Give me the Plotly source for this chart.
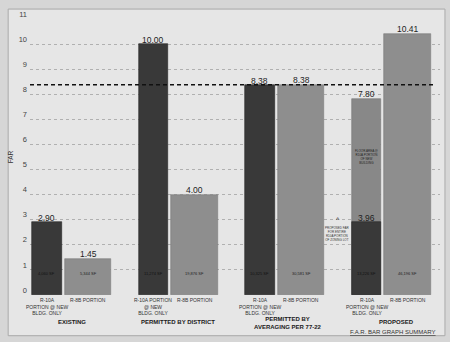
import plotly.graph_objects as go

# ---------------- data ----------------
groups = ["EXISTING", "PERMITTED BY DISTRICT", "PERMITTED BY<br>AVERAGING PER 77-22", "PROPOSED"]
r10a_labels = ["R-10A<br>PORTION @ NEW<br>BLDG. ONLY", "R-10A PORTION<br>@ NEW<br>BLDG. ONLY",
               "R-10A<br>PORTION @ NEW<br>BLDG. ONLY", "R-10A<br>PORTION @ NEW<br>BLDG. ONLY"]
r8b_labels = ["R-8B PORTION"] * 4
r10a_far = [2.90, 10.00, 8.38, 2.90]          # dark bar heights as drawn
r10a_far_text = ["2.90", "10.00", "8.38", "3.96"]
r8b_far = [1.45, 4.00, 8.38, 10.41]
proposed_total_far = 7.80                    # R-10A portion of entire zoning lot (proposed)
r10a_sf = ["4,060 SF", "11,274 SF", "10,325 SF", "13,226 SF"]
r8b_sf = ["5,344 SF", "19,876 SF", "30,581 SF", "46,196 SF"]
avg_far_line = 8.38
y_ticks = list(range(0, 12))

# ---------------- geometry helpers ----------------
W, H = 450, 342
L, R, T, B = 27, 440, 17, 295
XR = [-0.352, 3.497]
YR = [0, 11]
DARK_OFF, LIGHT_OFF = -0.193, 0.193
DARK_W, LIGHT_W = 0.275, 0.438


def xpx(px):
    return XR[0] + (px - L) / (R - L) * (XR[1] - XR[0])


def ypx(py):
    return YR[0] + (B - py) / (B - T) * (YR[1] - YR[0])


def xp(px):
    return (px - L) / (R - L)


def yp(py):
    return (B - py) / (B - T)


def xdata_to_paper(x):
    return (x - XR[0]) / (XR[1] - XR[0])


FONT = "Liberation Sans, Arial, sans-serif"
DARK = "#393939"
LIGHT = "#8e8e8e"
MID = "#888888"
BG = "#e6e6e6"

idx = list(range(len(groups)))
xd = [i + DARK_OFF for i in idx]
xl = [i + LIGHT_OFF for i in idx]

fig = go.Figure()
fig.add_trace(go.Bar(x=xl, y=r8b_far, width=[LIGHT_W] * 4,
                     marker=dict(color=LIGHT, line=dict(color="#7a7a7a", width=0.6)),
                     showlegend=False, hoverinfo="skip"))
fig.add_trace(go.Bar(x=[xd[3]], y=[proposed_total_far], width=[DARK_W],
                     marker=dict(color=MID, line=dict(color="#777777", width=0.6)),
                     showlegend=False, hoverinfo="skip"))
fig.add_trace(go.Bar(x=xd, y=r10a_far, width=[DARK_W] * 4,
                     marker=dict(color=DARK, line=dict(color="#242424", width=0.6)),
                     showlegend=False, hoverinfo="skip"))

ann = []
vfont = dict(family=FONT, size=8.5, color="#1e1e1e")
C = dict(xanchor="center", showarrow=False)
# value labels
for i in idx:
    ann.append(dict(x=xd[i], y=r10a_far[i], text=r10a_far_text[i],
                    yanchor="bottom", yshift=-3, font=vfont, **C))
    ann.append(dict(x=xl[i], y=r8b_far[i], text=f"{r8b_far[i]:.2f}",
                    yanchor="bottom", yshift=-2, font=vfont, **C))
ann.append(dict(x=xd[3], y=proposed_total_far, text=f"{proposed_total_far:.2f}",
                yanchor="bottom", yshift=-2, font=vfont, **C))

# inner SF labels
for i in idx:
    ann.append(dict(x=xd[i], y=ypx(273), text=r10a_sf[i], yanchor="middle",
                    font=dict(family=FONT, size=4, color="#111111"), **C))
    ann.append(dict(x=xl[i], y=ypx(273), text=r8b_sf[i], yanchor="middle",
                    font=dict(family=FONT, size=4, color="#222222"), **C))

# category labels (paper coordinates so they are not hidden below the axis range)
cfont = dict(family=FONT, size=5, color="#333333")
for i in idx:
    ann.append(dict(xref="paper", yref="paper", x=xdata_to_paper(xd[i]), y=yp(295.5),
                    text=r10a_labels[i], yanchor="top", font=cfont, **C))
    ann.append(dict(xref="paper", yref="paper", x=xdata_to_paper(xl[i]), y=yp(295.5),
                    text=r8b_labels[i], yanchor="top", font=cfont, **C))

# group labels
gx = [69, 176, 287, 396]
gy = [322, 322, 323.5, 322]
for i in idx:
    ann.append(dict(xref="paper", yref="paper", x=xp(gx[i]), y=yp(gy[i]),
                    text=f"<b>{groups[i]}</b>", yanchor="middle",
                    font=dict(family=FONT, size=6, color="#1a1a1a"), **C))

ann.append(dict(xref="paper", yref="paper", x=xp(393), y=yp(332), yanchor="middle",
                text="<u>F.A.R. BAR GRAPH SUMMARY</u>",
                font=dict(family=FONT, size=6, color="#333333"), **C))

# notes
ann.append(dict(x=xpx(337), y=ypx(219), text="^", yanchor="middle",
                font=dict(family=FONT, size=7, color="#222222"), **C))
ann.append(dict(x=xpx(337), y=ypx(234), yanchor="middle",
                text="PROPOSED FAR<br>FOR ENTIRE<br>R10A PORTION<br>OF ZONING LOT",
                font=dict(family=FONT, size=3, color="#333333"), **C))
ann.append(dict(x=xd[3], y=ypx(156), yanchor="middle",
                text="FLOOR AREA @<br>R10A PORTION<br>OF NEW<br>BUILDING",
                font=dict(family=FONT, size=3, color="#222222"), **C))

shapes = [
    dict(type="rect", xref="paper", yref="paper", x0=xp(5), x1=xp(445), y0=yp(336), y1=yp(7),
         fillcolor=BG, line=dict(color="#a9a9a9", width=1), layer="below"),
    dict(type="line", xref="x", yref="y", x0=xpx(27), x1=xpx(433), y0=avg_far_line, y1=avg_far_line,
         line=dict(color="#111111", width=1.4, dash="4px,3px"), layer="above"),
]

fig.update_layout(
    width=W, height=H, autosize=False,
    margin=dict(l=L, r=W - R, t=T, b=H - B, pad=0),
    paper_bgcolor="#d6d6d6", plot_bgcolor=BG,
    barmode="overlay", bargap=0,
    font=dict(family=FONT, color="#333333"),
    xaxis=dict(range=XR, visible=False, fixedrange=True),
    yaxis=dict(range=YR, tickvals=y_ticks, showgrid=True, gridcolor="#b0b0b0", griddash="3px,3px",
               gridwidth=1, zeroline=False, showline=False, ticks="",
               tickfont=dict(family=FONT, size=7.5, color="#444444"),
               ticklabelshift=-5, ticklabelstandoff=2,
               title=dict(text="FAR", font=dict(family=FONT, size=6.5, color="#333333"), standoff=4)),
    annotations=ann,
    shapes=shapes,
)

fig.write_html("out.html")
